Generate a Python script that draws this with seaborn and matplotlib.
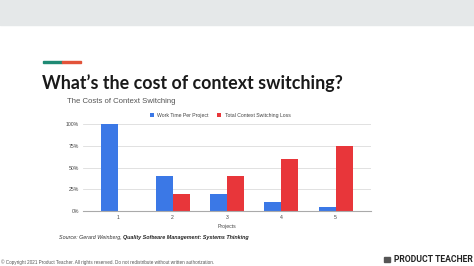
import matplotlib
matplotlib.use("Agg")
import matplotlib.pyplot as plt
import matplotlib.patches as mpatches
import numpy as np
import pandas as pd
import seaborn as sns

# data
projects = ["1", "2", "3", "4", "5"]
work_time = [1.00, 0.40, 0.20, 0.10, 0.05]
switch_loss = [0.00, 0.20, 0.40, 0.60, 0.75]
series_names = ["Work Time Per Project", "Total Context Switching Loss"]
y_ticks = [0, 0.25, 0.5, 0.75, 1.0]
y_labels = ["0%", "25%", "50%", "75%", "100%"]

df = pd.DataFrame({"Projects": projects,
                   series_names[0]: work_time,
                   series_names[1]: switch_loss})
df = df.melt(id_vars="Projects", var_name="series", value_name="share")

W, H = 474, 266
fig = plt.figure(figsize=(W / 100, H / 100), dpi=100)
fig.patch.set_facecolor("white")
chart_font = "Liberation Sans"

def fx(px):
    return px / W

def fy(py):
    return 1 - py / H

# grey band at the top of the slide
fig.patches.append(mpatches.Rectangle((0, fy(25)), 1, 25 / H, transform=fig.transFigure,
                                      color="#e5e8e9", zorder=0))
# two-colour accent line
fig.patches.append(mpatches.Rectangle((fx(43), fy(63)), fx(19), 2 / H, transform=fig.transFigure,
                                      color="#1f8a74", zorder=1))
fig.patches.append(mpatches.Rectangle((fx(62), fy(63)), fx(19), 2 / H, transform=fig.transFigure,
                                      color="#e2533a", zorder=1))

fig.text(fx(42), fy(83), "What’s the cost of context switching?", fontsize=12.9,
         fontweight="bold", family="Lato", color="#1a1a1a", va="center", ha="left")

# chart
ax = fig.add_axes([fx(83), fy(211), fx(371 - 83), (211 - 124) / H])
palette = {series_names[0]: "#3b78e6", series_names[1]: "#e8363a"}
sns.barplot(data=df, x="Projects", y="share", hue="series", palette=palette,
            width=0.62, gap=0, saturation=1, ax=ax, legend=True)

ax.set_xlim(-0.65, 4.65)
ax.set_ylim(0, 1)
ax.set_yticks(y_ticks)
ax.set_yticklabels(y_labels)
ax.yaxis.grid(True, color="#dcdcdc", linewidth=0.6)
ax.set_axisbelow(True)
for s in ["top", "right", "left"]:
    ax.spines[s].set_visible(False)
ax.spines["bottom"].set_color("#aaaaaa")
ax.spines["bottom"].set_linewidth(0.8)
ax.tick_params(axis="both", length=0, labelsize=3.7, labelcolor="#444444", pad=3)
for lab in ax.get_xticklabels() + ax.get_yticklabels():
    lab.set_family(chart_font)
ax.set_xlabel("Projects", fontsize=3.7, color="#444444", labelpad=3, family=chart_font)
ax.set_ylabel("")

handles, labels = ax.get_legend_handles_labels()
ax.legend_.remove()
fig.legend(handles, labels, loc="center", bbox_to_anchor=(fx(220), fy(115)), ncol=2,
           prop={"family": chart_font, "size": 3.7}, frameon=False,
           handlelength=0.9, handleheight=0.9,
           columnspacing=1.6, handletextpad=0.6, labelcolor="#444444")

fig.text(fx(67), fy(102), "The Costs of Context Switching", fontsize=5.6, color="#555555",
         family=chart_font, va="center", ha="left")

src = fig.text(fx(59), fy(238), "Source: Gerard Weinberg, ", fontsize=3.9, style="italic",
               family=chart_font, color="#333333", va="center", ha="left")
ax.annotate("Quality Software Management: Systems Thinking", xy=(1, 0.5), xycoords=src,
            fontsize=3.9, style="italic", fontweight="bold", color="#222222",
            family=chart_font, va="center", ha="left", annotation_clip=False)

fig.text(fx(1), fy(262), "© Copyright 2021 Product Teacher. All rights reserved. Do not redistribute without written authorization.",
         fontsize=3.3, color="#555555", family=chart_font, va="center", ha="left")
fig.patches.append(mpatches.Rectangle((fx(384), fy(261.5)), fx(6), 5 / H, transform=fig.transFigure,
                                      color="#555555", zorder=1))
fig.text(fx(473), fy(259), "PRODUCT TEACHER", fontsize=6.2, fontweight="bold", color="#222222",
         family="Roboto", va="center", ha="right")

fig.savefig("out.png", dpi=100)
